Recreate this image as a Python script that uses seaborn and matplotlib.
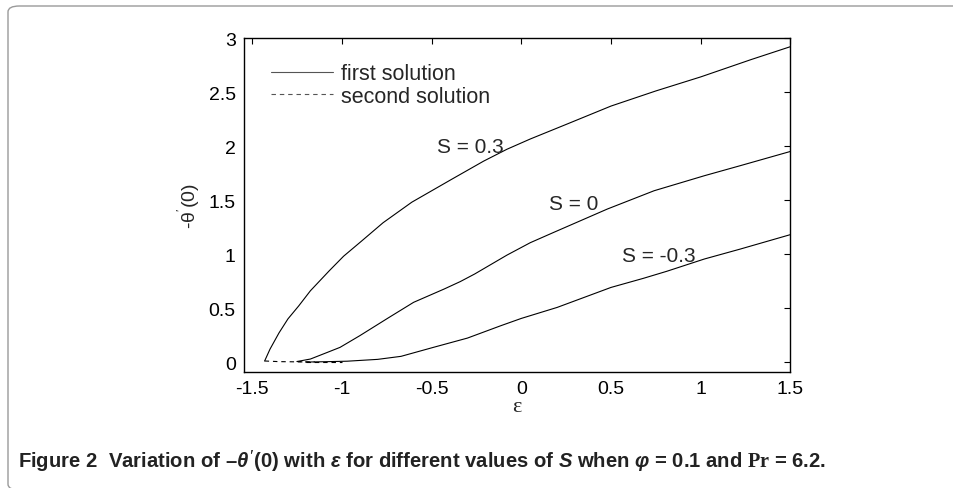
import numpy as np
import pandas as pd
import seaborn as sns
import matplotlib
matplotlib.use("Agg")
import matplotlib.pyplot as plt
from matplotlib.patches import FancyBboxPatch

# ---- data ----
eps_s03 = [-1.43, -1.40, -1.35, -1.30, -1.24, -1.175, -1.07, -0.99, -0.89, -0.77,
           -0.61, -0.39, -0.21, -0.08, 0.05, 0.25, 0.50, 0.75, 1.00, 1.28, 1.50]
th_s03 = [0.01, 0.12, 0.27, 0.40, 0.52, 0.66, 0.845, 0.98, 1.12, 1.29,
          1.48, 1.69, 1.86, 1.97, 2.065, 2.20, 2.37, 2.51, 2.64, 2.80, 2.92]

eps_s0 = [-1.25, -1.175, -1.08, -1.01, -0.90, -0.74, -0.60, -0.43, -0.34, -0.26,
          -0.08, 0.05, 0.18, 0.48, 0.74, 1.02, 1.22, 1.50]
th_s0 = [0.005, 0.028, 0.09, 0.136, 0.244, 0.41, 0.553, 0.676, 0.745, 0.815,
         0.99, 1.105, 1.20, 1.417, 1.586, 1.725, 1.818, 1.95]

eps_sm03 = [-1.20, -1.10, -0.97, -0.80, -0.67, -0.49, -0.30, -0.115, 0.0, 0.20,
            0.50, 0.68, 0.81, 1.02, 1.22, 1.50]
th_sm03 = [0.0, 0.003, 0.008, 0.025, 0.053, 0.136, 0.222, 0.336, 0.404, 0.506,
           0.691, 0.775, 0.84, 0.954, 1.046, 1.18]

# second (lower-branch) solutions, close to zero
eps2_s03 = [-1.43, -1.35, -1.25, -1.20]
th2_s03 = [0.01, 0.004, 0.002, 0.001]
eps2_s0 = [-1.25, -1.20, -1.15]
th2_s0 = [0.005, 0.002, 0.001]
eps2_sm03 = [-1.20, -1.10, -1.00]
th2_sm03 = [0.0, 0.0, 0.0]

curve_labels = ["S = 0.3", "S = 0", "S = -0.3"]
label_pos_x = [-0.467, 0.152, 0.56]
label_pos_y = [2.0, 1.465, 0.99]

xticks = [-1.5, -1, -0.5, 0, 0.5, 1, 1.5]
xtick_labels = ["-1.5", "-1", "-0.5", "0", "0.5", "1", "1.5"]
yticks = [0, 0.5, 1, 1.5, 2, 2.5, 3]
ytick_labels = ["0", "0.5", "1", "1.5", "2", "2.5", "3"]

first = pd.concat([
    pd.DataFrame({"eps": eps_s03, "theta": th_s03, "S": "0.3"}),
    pd.DataFrame({"eps": eps_s0, "theta": th_s0, "S": "0"}),
    pd.DataFrame({"eps": eps_sm03, "theta": th_sm03, "S": "-0.3"}),
])
second = pd.concat([
    pd.DataFrame({"eps": eps2_s03, "theta": th2_s03, "S": "0.3"}),
    pd.DataFrame({"eps": eps2_s0, "theta": th2_s0, "S": "0"}),
    pd.DataFrame({"eps": eps2_sm03, "theta": th2_sm03, "S": "-0.3"}),
])

# ---- style ----
sns.set_theme(style="white")
plt.rcParams["font.family"] = ["Liberation Sans", "DejaVu Sans"]
plt.rcParams["mathtext.fontset"] = "custom"
plt.rcParams["mathtext.it"] = "Liberation Sans:italic:bold"
plt.rcParams["mathtext.rm"] = "Liberation Serif:bold"
plt.rcParams["mathtext.bf"] = "Liberation Sans:bold"

W, H = 954, 489
fig = plt.figure(figsize=(W / 100, H / 100), dpi=100)
ax = fig.add_axes([244 / W, 1 - 373 / H, (790.5 - 244) / W, (373 - 39) / H])

LW = 0.8
for s in ["0.3", "0", "-0.3"]:
    sns.lineplot(data=first[first.S == s], x="eps", y="theta", color="black",
                 lw=LW, ax=ax, estimator=None,
                 label="first solution" if s == "0.3" else None)
for s in ["0.3", "0", "-0.3"]:
    sns.lineplot(data=second[second.S == s], x="eps", y="theta", color="black",
                 lw=LW, ax=ax, estimator=None, linestyle=(0, (4, 3.5)),
                 label="second solution" if s == "0.3" else None)

ax.set_xlim(-1.545, 1.5)
ax.set_ylim(-0.092, 3)
ax.set_xticks(xticks)
ax.set_xticklabels(xtick_labels)
ax.set_yticks(yticks)
ax.set_yticklabels(ytick_labels)
ax.tick_params(direction="in", length=4, width=0.8, top=True, right=True,
               labelsize=14, pad=6, colors="black")
for sp in ax.spines.values():
    sp.set_color("black")
    sp.set_linewidth(1.0)

ax.set_xlabel("ε", family=["Liberation Serif"], fontsize=16, labelpad=0)
ax.set_ylabel("-θ$^{'}$(0)", fontsize=14, labelpad=4)

for t, x, y in zip(curve_labels, label_pos_x, label_pos_y):
    ax.text(x, y, t, fontsize=15, ha="left", va="center")

leg = ax.legend(loc="upper left", bbox_to_anchor=(0.033, 0.95), frameon=False,
                fontsize=15.5, handlelength=2.9, handletextpad=0.35,
                labelspacing=0.08, borderaxespad=0)
for h in leg.get_lines():
    h.set_color("#555555")

# outer rounded frame
frame = FancyBboxPatch((8 / W, -2 / H), 1.2, (482 - (-2)) / H,
                       boxstyle="round,pad=0,rounding_size=0.012",
                       transform=fig.transFigure, fill=False,
                       edgecolor="#9a9a9a", lw=1.0, clip_on=False)
fig.patches.append(frame)

fig.text(18 / W, 1 - 461 / H,
         r"Figure 2  Variation of –$\theta'$(0) with $\varepsilon$ for different values of $S$ when $\varphi$ = 0.1 and $\mathrm{Pr}$ = 6.2.",
         fontsize=14.6, fontweight="bold", ha="left", va="center", color="#222222")

fig.savefig("out.png", dpi=100)
